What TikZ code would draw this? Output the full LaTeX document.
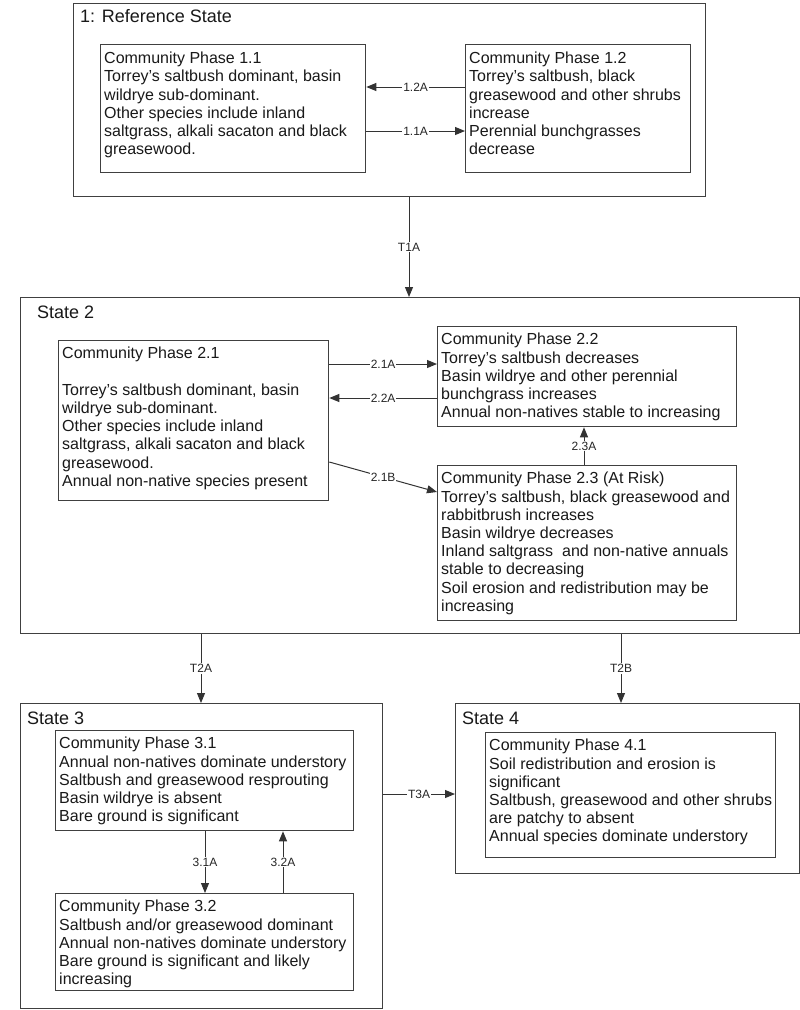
\documentclass[tikz,border=0pt]{standalone}
\usepackage{fontspec}
\setmainfont{Liberation Sans}
\usetikzlibrary{arrows.meta}
\tikzset{
  statebox/.style={draw=black!75, line width=1.3pt, rectangle, inner sep=0pt, anchor=north west},
  phasebox/.style={draw=black!75, line width=1.3pt, rectangle, inner sep=0pt, anchor=north west},
  phasetxt/.style={anchor=north west, align=left, inner sep=0pt, font=\fontsize{16}{18.2}\selectfont, text=black!90},
  titletxt/.style={anchor=base west, inner sep=0pt, font=\fontsize{18}{20}\selectfont, text=black!90},
  conn/.style={draw=black!80, line width=1pt, -{Triangle[length=10pt,width=8pt]}},
  lab/.style={fill=white, inner sep=1pt, font=\fontsize{12}{13}\selectfont, text=black!85},
}
\begin{document}
\begin{tikzpicture}[x=1pt,y=-1pt]
\useasboundingbox (0,0) rectangle (800,1010);
\fill[white] (0,0) rectangle (800,1010);

% States
\node[statebox, minimum width=632, minimum height=193] (s1) at (73,3) {};
\node[titletxt] (t1) at (80,22) {1: Reference State};
\node[statebox, minimum width=779, minimum height=336] (s2) at (20,297) {};
\node[titletxt] (t2) at (37,318) {State 2};
\node[statebox, minimum width=362, minimum height=305] (s3) at (20,703) {};
\node[titletxt] (t3) at (27,724) {State 3};
\node[statebox, minimum width=344, minimum height=170] (s4) at (455,703) {};
\node[titletxt] (t4) at (462,724) {State 4};

% Phases
\node[phasebox, minimum width=265, minimum height=128] (p11) at (100,44) {};
\node[phasetxt] (p11t) at ([shift={(4,8)}]p11.north west) {Community Phase 1.1\\Torrey’s saltbush dominant, basin\\wildrye sub-dominant.\\Other species include inland\\saltgrass, alkali sacaton and black\\greasewood.};

\node[phasebox, minimum width=225, minimum height=128] (p12) at (465,44) {};
\node[phasetxt] (p12t) at ([shift={(4,8)}]p12.north west) {Community Phase 1.2\\Torrey’s saltbush, black\\greasewood and other shrubs\\increase\\Perennial bunchgrasses\\decrease};

\node[phasebox, minimum width=270, minimum height=160] (p21) at (58,340) {};
\node[phasetxt] (p21t) at ([shift={(4,7)}]p21.north west) {Community Phase 2.1\\[18.2pt]Torrey’s saltbush dominant, basin\\wildrye sub-dominant.\\Other species include inland\\saltgrass, alkali sacaton and black\\greasewood.\\Annual non-native species present};

\node[phasebox, minimum width=299, minimum height=100] (p22) at (437,326) {};
\node[phasetxt] (p22t) at ([shift={(4,7)}]p22.north west) {Community Phase 2.2\\Torrey’s saltbush decreases\\Basin wildrye and other perennial\\bunchgrass increases\\Annual non-natives stable to increasing};

\node[phasebox, minimum width=299, minimum height=155] (p23) at (437,465) {};
\node[phasetxt] (p23t) at ([shift={(4,7)}]p23.north west) {Community Phase 2.3 (At Risk)\\Torrey’s saltbush, black greasewood and\\rabbitbrush increases\\Basin wildrye decreases\\Inland saltgrass\ \ and non-native annuals\\stable to decreasing\\Soil erosion and redistribution may be\\increasing};

\node[phasebox, minimum width=298, minimum height=100] (p31) at (55,730) {};
\node[phasetxt] (p31t) at ([shift={(4,7)}]p31.north west) {Community Phase 3.1\\Annual non-natives dominate understory\\Saltbush and greasewood resprouting\\Basin wildrye is absent\\Bare ground is significant};

\node[phasebox, minimum width=298, minimum height=97] (p32) at (55,893) {};
\node[phasetxt] (p32t) at ([shift={(4,7)}]p32.north west) {Community Phase 3.2\\Saltbush and/or greasewood dominant\\Annual non-natives dominate understory\\Bare ground is significant and likely\\increasing};

\node[phasebox, minimum width=290, minimum height=125] (p41) at (485,732) {};
\node[phasetxt] (p41t) at ([shift={(4,7)}]p41.north west) {Community Phase 4.1\\Soil redistribution and erosion is\\significant\\Saltbush, greasewood and other shrubs\\are patchy to absent\\Annual species dominate understory};

% Connectors
\draw[conn] (p12.west |- 0,87) -- node[lab] {1.2A} (p11.east |- 0,87);
\draw[conn] (p11.east |- 0,131) -- node[lab] {1.1A} (p12.west |- 0,131);
\draw[conn] (s1.south -| 409,0) -- node[lab] {T1A} (s2.north -| 409,0);
\draw[conn] (p21.east |- 0,364) -- node[lab] {2.1A} (p22.west |- 0,364);
\draw[conn] (p22.west |- 0,398) -- node[lab] {2.2A} (p21.east |- 0,398);
\draw[conn] (p21.east |- 0,462) -- node[lab] {2.1B} (p23.west |- 0,492);
\draw[conn] (p23.north -| 584,0) -- node[lab] {2.3A} (p22.south -| 584,0);
\draw[conn] (s2.south -| 201,0) -- node[lab] {T2A} (s3.north -| 201,0);
\draw[conn] (s2.south -| 621,0) -- node[lab] {T2B} (s4.north -| 621,0);
\draw[conn] (p31.south -| 205,0) -- node[lab] {3.1A} (p32.north -| 205,0);
\draw[conn] (p32.north -| 283,0) -- node[lab] {3.2A} (p31.south -| 283,0);
\draw[conn] (s3.east |- 0,794) -- node[lab] {T3A} (s4.west |- 0,794);
\end{tikzpicture}
\end{document}
